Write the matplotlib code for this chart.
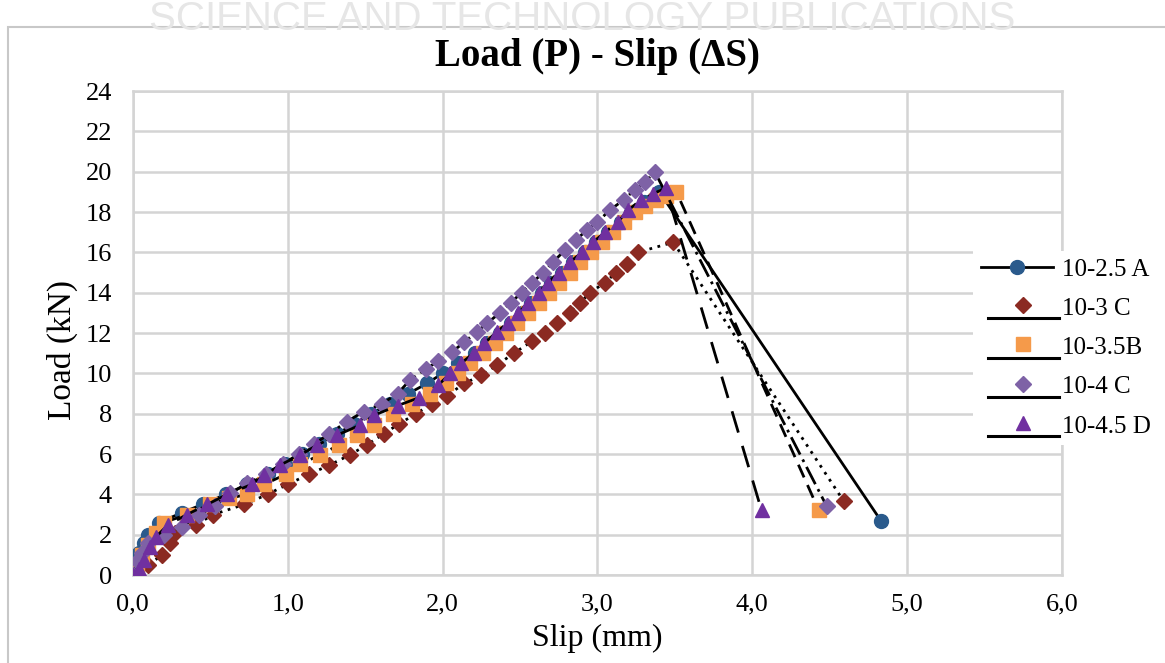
import matplotlib
matplotlib.use("Agg")
import matplotlib.pyplot as plt
from matplotlib.lines import Line2D
from matplotlib.legend_handler import HandlerBase
from matplotlib.patches import Rectangle

# data (slip in mm, load in kN)
a_x = [0.0, 0.02, 0.04, 0.07, 0.1, 0.17, 0.32, 0.45, 0.6, 0.74, 0.87, 0.98, 1.09, 1.2, 1.32, 1.43, 1.54, 1.66,
       1.78, 1.9, 2.0, 2.1, 2.21, 2.29, 2.37, 2.44, 2.51, 2.57, 2.64, 2.7, 2.77, 2.84, 2.92, 2.99, 3.07, 3.15,
       3.22, 3.3, 3.4, 4.83]
a_y = [0.0, 0.6, 1.1, 1.6, 2.0, 2.6, 3.1, 3.5, 4.0, 4.5, 5.0, 5.5, 6.0, 6.5, 7.0, 7.5, 8.0, 8.5,
       9.0, 9.5, 10.0, 10.5, 11.0, 11.5, 12.0, 12.5, 13.0, 13.5, 14.0, 14.5, 15.0, 15.5, 16.0, 16.5, 17.0, 17.5,
       18.0, 18.5, 19.0, 2.7]

c3_x = [0.02, 0.1, 0.19, 0.24, 0.27, 0.41, 0.52, 0.72, 0.87, 1.0, 1.14, 1.27, 1.4, 1.51, 1.62, 1.72, 1.83,
        1.93, 2.03, 2.14, 2.25, 2.35, 2.46, 2.58, 2.66, 2.74, 2.82, 2.89, 2.95, 3.05, 3.12, 3.19, 3.26, 3.49, 4.59]
c3_y = [0.0, 0.5, 1.0, 1.6, 2.1, 2.5, 3.0, 3.5, 4.0, 4.5, 5.0, 5.45, 5.95, 6.45, 7.0, 7.5, 8.0,
        8.5, 8.9, 9.5, 9.9, 10.4, 11.0, 11.6, 12.0, 12.5, 13.0, 13.5, 14.0, 14.5, 15.0, 15.4, 16.0, 16.5, 3.67]

b35_x = [0.0, 0.03, 0.06, 0.1, 0.15, 0.2, 0.35, 0.5, 0.62, 0.74, 0.85, 0.99, 1.08, 1.21, 1.33, 1.45, 1.56,
         1.68, 1.8, 1.92, 2.02, 2.1, 2.18, 2.26, 2.34, 2.41, 2.48, 2.55, 2.62, 2.69, 2.75, 2.82, 2.89, 2.96,
         3.03, 3.1, 3.17, 3.24, 3.31, 3.38, 3.44, 3.51, 4.43]
b35_y = [0.0, 0.5, 1.0, 1.5, 2.1, 2.6, 3.0, 3.5, 3.8, 4.0, 4.5, 5.0, 5.5, 5.95, 6.45, 6.95, 7.45,
         8.0, 8.5, 9.0, 9.5, 10.0, 10.5, 11.0, 11.5, 12.0, 12.5, 13.0, 13.5, 14.0, 14.5, 15.0, 15.5, 16.0,
         16.5, 17.0, 17.5, 18.0, 18.3, 18.6, 18.8, 19.0, 3.2]

c4_x = [0.0, 0.03, 0.06, 0.1, 0.2, 0.32, 0.43, 0.53, 0.63, 0.74, 0.86, 0.97, 1.07, 1.17, 1.27, 1.38, 1.49,
        1.61, 1.71, 1.79, 1.89, 1.97, 2.06, 2.14, 2.22, 2.29, 2.37, 2.44, 2.51, 2.58, 2.65, 2.71, 2.79, 2.86,
        2.93, 3.0, 3.08, 3.17, 3.24, 3.31, 3.37, 4.48]
c4_y = [0.0, 0.7, 1.1, 1.6, 2.0, 2.4, 3.0, 3.4, 4.05, 4.55, 5.0, 5.5, 6.0, 6.5, 7.0, 7.6, 8.1,
        8.5, 9.0, 9.67, 10.2, 10.6, 11.05, 11.55, 12.05, 12.5, 13.0, 13.5, 14.0, 14.5, 15.0, 15.5, 16.1, 16.6,
        17.1, 17.5, 18.1, 18.6, 19.1, 19.5, 20.0, 3.42]

d45_x = [0.0, 0.04, 0.07, 0.11, 0.15, 0.23, 0.35, 0.48, 0.61, 0.77, 0.85, 0.95, 1.08, 1.19, 1.32, 1.47, 1.56,
         1.71, 1.85, 1.97, 2.05, 2.12, 2.2, 2.27, 2.35, 2.42, 2.49, 2.55, 2.62, 2.68, 2.75, 2.82, 2.9, 2.97,
         3.05, 3.13, 3.2, 3.28, 3.36, 3.44, 4.06]
d45_y = [0.0, 0.3, 0.74, 1.4, 1.9, 2.5, 3.0, 3.5, 4.0, 4.5, 4.96, 5.45, 5.95, 6.44, 6.94, 7.44, 7.93,
         8.4, 8.8, 9.4, 10.0, 10.5, 11.0, 11.5, 12.05, 12.5, 13.0, 13.5, 14.0, 14.5, 15.0, 15.5, 16.0, 16.5,
         17.0, 17.5, 18.1, 18.6, 18.9, 19.2, 3.2]

labels = ["10-2.5 A", "10-3 C", "10-3.5B", "10-4 C", "10-4.5 D"]
x_ticks = [0, 1, 2, 3, 4, 5, 6]
x_tick_labels = ["0,0", "1,0", "2,0", "3,0", "4,0", "5,0", "6,0"]
y_ticks = list(range(0, 25, 2))


class UnderlineHandler(HandlerBase):
    # excel-style legend entry: marker in the middle, solid line underneath
    def create_artists(self, legend, orig_handle, xdescent, ydescent, width, height, fontsize, trans):
        x0, y0 = -xdescent, -ydescent
        ln = Line2D([x0 + 0.1 * width, x0 + 1.08 * width], [y0 - 0.2 * height] * 2,
                    color="black", lw=2.2, transform=trans)
        mk = Line2D([x0 + 0.58 * width], [y0 + 0.55 * height], marker=orig_handle.get_marker(),
                    markersize=orig_handle.get_markersize(), color=orig_handle.get_markerfacecolor(),
                    markeredgecolor=orig_handle.get_markeredgecolor(), linestyle="none", transform=trans)
        return [ln, mk]


def main():
    plt.rcParams["font.family"] = ["Liberation Serif", "DejaVu Serif"]
    fig = plt.figure(figsize=(11.65, 6.63), dpi=100)
    ax = fig.add_axes([0.114, 0.1327, 0.7976, 0.73])

    # pdf watermark + chart border
    fig.text(0.5, 0.972, "SCIENCE AND TECHNOLOGY PUBLICATIONS", ha="center", va="center",
             fontsize=29, color="#e6e6e6", family=["Liberation Sans", "DejaVu Sans"])
    fig.patches.append(Rectangle((0.007, -0.01), 1.0, 0.97, transform=fig.transFigure,
                                 fill=False, edgecolor="#c8c8c8", lw=1.5, zorder=0))

    series = [
        (a_x, a_y, "o", "#2a5a8c", "-", 10),
        (c3_x, c3_y, "D", "#8b2a22", (0, (1, 2)), 8),
        (b35_x, b35_y, "s", "#f59a4a", (0, (5, 3)), 10),
        (c4_x, c4_y, "D", "#7e62a6", (0, (7, 2, 1, 2)), 8),
        (d45_x, d45_y, "^", "#7030a0", (0, (8, 5)), 10),
    ]
    handles = []
    for i, (xs, ys, mk, col, ls, ms) in enumerate(series):
        h, = ax.plot(xs, ys, color="black", linestyle=ls, lw=2.0, marker=mk, markersize=ms,
                     markerfacecolor=col, markeredgecolor=col, label=labels[i], zorder=3 + i)
        handles.append(h)

    ax.set_xlim(0, 6)
    ax.set_ylim(0, 24)
    ax.set_xticks(x_ticks)
    ax.set_xticklabels(x_tick_labels)
    ax.set_yticks(y_ticks)
    ax.tick_params(labelsize=19, length=0)
    ax.tick_params(axis="x", pad=13)
    ax.tick_params(axis="y", pad=15)
    ax.grid(True, color="#d4d4d4", lw=1.8)
    ax.set_axisbelow(True)
    for s in ax.spines.values():
        s.set_color("#d4d4d4")
        s.set_linewidth(1.8)

    ax.set_title("Load (P) - Slip (\u0394S)", fontsize=28, fontweight="bold", pad=18)
    ax.set_xlabel("Slip (mm)", fontsize=23, labelpad=6)
    ax.set_ylabel("Load (kN)", fontsize=24)
    ax.yaxis.set_label_coords(-0.059, 0.465)

    hmap = {h: UnderlineHandler() for h in handles[1:]}
    leg = fig.legend(handles=handles, labels=labels, loc="upper left",
                     bbox_to_anchor=(961 / 1165, 1 - 238 / 663), bbox_transform=fig.transFigure,
                     fontsize=18, handlelength=2.9, handletextpad=0.35, labelspacing=0.67,
                     frameon=True, fancybox=False, borderpad=0.3, handler_map=hmap)
    leg.get_frame().set_facecolor("white")
    leg.get_frame().set_edgecolor("none")
    leg.get_frame().set_alpha(1.0)

    fig.savefig("out.png", dpi=100)


if __name__ == '__main__':
    main()
